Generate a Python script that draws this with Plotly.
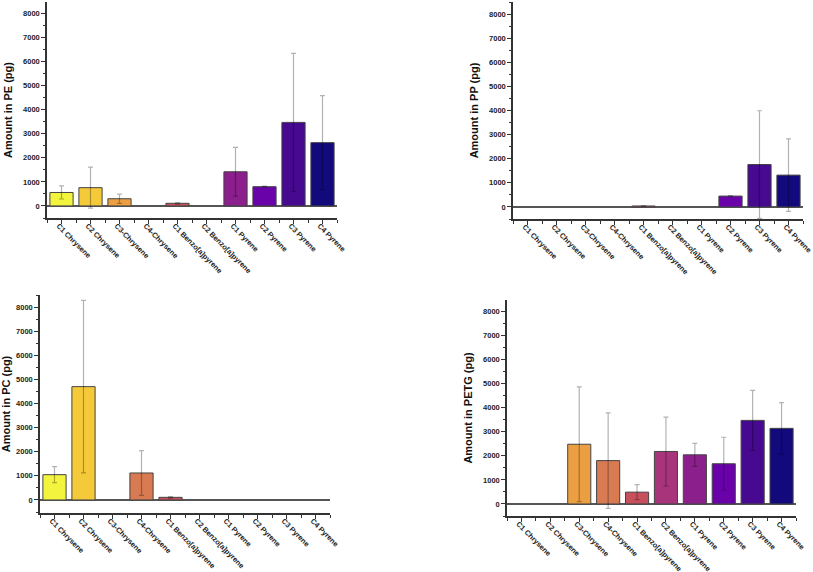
import plotly.graph_objects as go

categories = ["C1 Chrysene", "C2 Chrysene", "C3-Chrysene", "C4-Chrysene",
              "C1 Benzo[a]pyrene", "C2 Benzo[a]pyrene", "C1 Pyrene",
              "C2 Pyrene", "C3 Pyrene", "C4 Pyrene"]

bar_colors = ["#f2f43e", "#f5ca3a", "#eb9f42", "#d87a52", "#c8505c",
              "#a8347c", "#8b1f8c", "#6a02aa", "#46098f", "#120a7c"]

pe_values = [560, 760, 300, None, 110, None, 1420, 800, 3470, 2630]
pe_errors = [270, 850, 190, None, 30, None, 1010, 20, 2870, 1950]

pp_values = [None, None, None, None, 40, None, None, 450, 1760, 1320]
pp_errors = [None, None, None, None, 15, None, None, 20, 2230, 1500]

pc_values = [1050, 4700, None, 1120, 110, None, None, None, None, None]
pc_errors = [330, 3580, None, 930, 30, None, None, None, None, None]

petg_values = [None, None, 2480, 1800, 490, 2180, 2040, 1670, 3470, 3140]
petg_errors = [None, None, 2380, 1980, 310, 1430, 480, 1100, 1250, 1070]

y_titles = ["Amount in PE (pg)", "Amount in PP (pg)",
            "Amount in PC (pg)", "Amount in PETG (pg)"]
y_ticks = [0, 1000, 2000, 3000, 4000, 5000, 6000, 7000, 8000]

W, H = 813, 572
# plot-area boxes in pixels: (left, right, top, bottom)
boxes = [(47, 337, 2, 218), (513, 803, 2, 219),
         (40, 330, 295, 513), (507, 796, 300, 516)]
y_ranges = [[-500, 8470], [-500, 8500], [-540, 8500], [-500, 8470]]

series = [(pe_values, pe_errors), (pp_values, pp_errors),
          (pc_values, pc_errors), (petg_values, petg_errors)]

fig = go.Figure()
FONT = "Liberation Sans, Arial, sans-serif"
xs = list(range(len(categories)))

for i, ((vals, errs), box, yr, yt) in enumerate(zip(series, boxes, y_ranges, y_titles)):
    n = "" if i == 0 else str(i + 1)
    fig.add_trace(go.Bar(
        x=xs, y=vals, width=0.8,
        marker=dict(color=bar_colors, line=dict(color="#444444", width=1)),
        error_y=dict(type="data", array=errs, visible=True,
                     color="rgba(0,0,0,0.3)", thickness=1.2, width=2.5),
        xaxis="x" + n, yaxis="y" + n, showlegend=False,
    ))
    l, r, t, b = box
    fig.layout["xaxis" + n] = dict(
        domain=[l / W, r / W], anchor="y" + n, range=[-0.5, 9.5],
        automargin=False, ticklabeloverflow="allow",
        tickmode="array", tickvals=xs, ticktext=categories, tickangle=45,
        ticklabelshift=-3, ticklabelstandoff=-5,
        ticks="outside", ticklen=4, tickcolor="#333", tickwidth=1,
        showline=True, linecolor="#333", linewidth=1.5,
        showgrid=False, zeroline=False,
        minor=dict(tickmode="linear", tick0=0.5, dtick=1, ticks="outside",
                   ticklen=3, tickcolor="#333", showgrid=False),
        tickfont=dict(family=FONT, size=7.4, color="#222", weight="bold"),
    )
    fig.layout["yaxis" + n] = dict(
        domain=[1 - b / H, 1 - t / H], anchor="x" + n, range=yr,
        automargin=False,
        tickmode="array", tickvals=y_ticks,
        ticks="outside", ticklen=4, tickcolor="#333", tickwidth=1,
        showline=True, linecolor="#333", linewidth=1.5,
        showgrid=False,
        zeroline=True, zerolinecolor="#555", zerolinewidth=1.5,
        minor=dict(tickmode="linear", tick0=-500, dtick=500, ticks="outside",
                   ticklen=2.5, tickcolor="#333", showgrid=False),
        tickfont=dict(family=FONT, size=7.5, color="#222", weight="bold"),
        title=dict(text=yt, standoff=8,
                   font=dict(family=FONT, size=11, color="#111", weight="bold")),
    )

fig.update_layout(
    width=W, height=H,
    margin=dict(l=0, r=0, t=0, b=0),
    paper_bgcolor="white", plot_bgcolor="white",
    bargap=0.2,
)

fig.write_html("out.html", config={"displayModeBar": False},
               post_script="document.body.style.margin='0';")
